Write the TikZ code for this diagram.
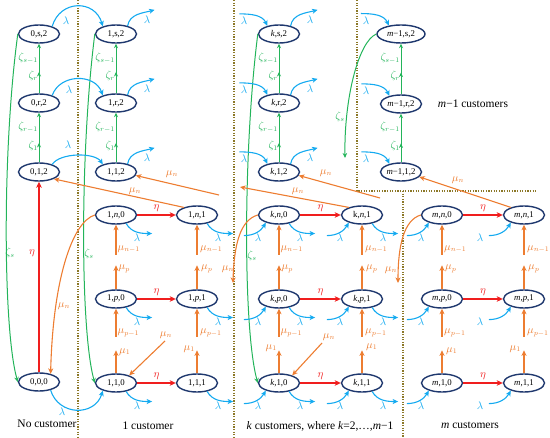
\documentclass[tikz,border=0pt]{standalone}
\usepackage{fontspec}
\setmainfont{Liberation Serif}
\usetikzlibrary{arrows.meta,shapes.geometric,decorations.markings}
\definecolor{nodeblue}{RGB}{31,56,110}
\definecolor{lamblue}{RGB}{20,170,240}
\definecolor{muor}{RGB}{237,125,49}
\definecolor{zgreen}{RGB}{35,180,90}
\definecolor{etared}{RGB}{240,30,30}
\definecolor{dotcol}{RGB}{140,120,40}
\tikzset{
 st/.style={ellipse,draw=nodeblue,line width=1.4pt,fill=white,minimum width=41pt,minimum height=18pt,inner sep=0pt,font=\fontsize{8.8}{9}\selectfont},
 lamarr/.style={draw=lamblue,line width=1.1pt,-{Stealth[length=5.5pt,width=5pt,inset=1.5pt]}},
 lamarrin/.style={draw=lamblue,line width=1.1pt,{Stealth[length=5.5pt,width=5pt,inset=1.5pt]}-},
 muarr/.style={draw=muor,line width=1.1pt,-{Stealth[length=5.5pt,width=5pt,inset=1.5pt]}},
 muarrin/.style={draw=muor,line width=1.1pt,{Stealth[length=5.5pt,width=5pt,inset=1.5pt]}-},
 zarr/.style={draw=zgreen,line width=1pt,-{Stealth[length=5pt,width=4.5pt]}},
 zchain/.style={draw=zgreen,line width=1pt,-{Stealth[length=4.5pt,width=4pt]},postaction={decorate},
   decoration={markings,mark=at position #1 with {\arrow{Stealth[length=4.5pt,width=4pt,color=zgreen]}}}},
 etaarr/.style={draw=etared,line width=1.4pt,-{Stealth[length=6pt,width=5.5pt,inset=1.5pt]}},
 dotl/.style={draw=dotcol,line width=1.3pt,dash pattern=on 1.3pt off 1.3pt},
 lbl/.style={inner sep=0pt,font=\fontsize{10.5}{11}\selectfont},
 lamlbl/.style={lbl,text=lamblue},
 mulbl/.style={lbl,text=muor},
 zlbl/.style={lbl,text=zgreen},
 etalbl/.style={lbl,text=etared},
 captxt/.style={inner sep=0pt,font=\fontsize{11.5}{12}\selectfont}
}
\newcommand\LOut[1]{\draw[lamarr] (#1.-40) to[out=-60,in=180] ++(26,10);
  \node[lamlbl,xshift=21pt,yshift=-23pt] (#1lo) at (#1.center) {$\lambda$};}
\newcommand\LIn[2]{\draw[lamarrin] (#1.-150) to[out=-120,in=0] ++(-22,13);
  \node[lamlbl,xshift=#2,yshift=-23pt] (#1li) at (#1.center) {$\lambda$};}
\newcommand\LTopOut[1]{\draw[lamarr] (#1.35) to[out=80,in=195] ++(27,-16);
  \node[lamlbl,xshift=31pt,yshift=14pt] (#1lto) at (#1.center) {$\lambda$};}
\newcommand\LTopIn[1]{\draw[lamarrin] (#1.145) to[out=115,in=0] ++(-28,-12);
  \node[lamlbl,xshift=-35pt,yshift=13pt] (#1lti) at (#1.center) {$\lambda$};}
\newcommand\ZChain[5]{% bottom, mid, top, prefix, x
  \draw[zchain=0.39] (#1) -- (#2);
  \draw[zchain=0.43] (#2) -- (#3);
  \node[zlbl,anchor=east] (#4za) at (#5-1,58) {$\zeta_{s-1}$};
  \node[zlbl,anchor=east] (#4zb) at (#5-1,76) {$\zeta_{r}$};
  \node[zlbl,anchor=east] (#4zc) at (#5-1,127) {$\zeta_{r-1}$};
  \node[zlbl,anchor=east] (#4zd) at (#5-1,146) {$\zeta_{1}$};}
\newcommand\MuN[2]{\draw[muarrin] (#1.south) -- ++(0,30);
  \node[mulbl,anchor=west] (#1mn) at (#2,249) {$\mu_{n-1}$};}
\newcommand\MuP[2]{\draw[muarr] (#1.north) -- ++(0,-24);
  \node[mulbl,anchor=west] (#1mp) at (#2+1,269) {$\mu_{p}$};
  \draw[muarrin] (#1.south) -- ++(0,28);
  \node[mulbl,anchor=west] (#1mq) at (#2,333) {$\mu_{p-1}$};}
\newcommand\MuOne[4]{\draw[muarr] (#1.north) -- ++(0,-23);
  \node[mulbl,anchor=#2] (#1mo) at (#3,#4) {$\mu_{1}$};}
\newcommand\Eta[2]{\draw[etaarr] (#1) -- (#2) node[etalbl,midway,above=2.5pt] (#1e) {$\eta$};}
\begin{document}
\begin{tikzpicture}[x=1pt,y=-1pt]
\useasboundingbox (0,0) rectangle (550,438);
% separators
\draw[dotl] (78,0) -- (78,438);
\draw[dotl] (234,0) -- (234,438);
\draw[dotl] (357,0) -- (357,191) -- (537,191);
\draw[dotl] (403,191) -- (403,438);
% column 0
\node[st] (a0s) at (39,34) {0,s,2};
\node[st] (a0r) at (39,103) {0,r,2};
\node[st] (a01) at (39,172) {0,1,2};
\node[st] (a00) at (39,382) {0,0,0};
% column 1
\node[st] (b1s) at (116,34) {1,s,2};
\node[st] (b1r) at (116,103) {1,r,2};
\node[st] (b11) at (116,172) {1,1,2};
\node[st] (c1n0) at (116,215) {1,\textit{n},0};
\node[st] (c1n1) at (197,215) {1,\textit{n},1};
\node[st] (c1p0) at (116,299) {1,\textit{p},0};
\node[st] (c1p1) at (197,299) {1,\textit{p},1};
\node[st] (c110) at (116,383) {1,1,0};
\node[st] (c111) at (197,383) {1,1,1};
% column k
\node[st] (bks) at (279,34) {\textit{k},s,2};
\node[st] (bkr) at (279,103) {\textit{k},r,2};
\node[st] (bk1) at (279,172) {\textit{k},1,2};
\node[st] (ckn0) at (279,215) {\textit{k},\textit{n},0};
\node[st] (ckn1) at (362,215) {k,\textit{n},1};
\node[st] (ckp0) at (279,299) {\textit{k},\textit{p},0};
\node[st] (ckp1) at (362,299) {\textit{k},\textit{p},1};
\node[st] (ck10) at (279,383) {\textit{k},1,0};
\node[st] (ck11) at (362,383) {\textit{k},1,1};
% column m-1
\node[st,minimum width=48pt] (bms) at (401,34) {\textit{m}−1,s,2};
\node[st] (bmr) at (401,104) {\textit{m}−1,r,2};
\node[st] (bm1) at (401,172) {\textit{m}−1,1,2};
% column m
\node[st] (cmn0) at (442,215) {\textit{m},\textit{n},0};
\node[st] (cmn1) at (524,215) {\textit{m},\textit{n},1};
\node[st] (cmp0) at (442,299) {\textit{m},\textit{p},0};
\node[st] (cmp1) at (524,299) {\textit{m},\textit{p},1};
\node[st] (cm10) at (442,383) {\textit{m},1,0};
\node[st] (cm11) at (524,383) {\textit{m},1,1};
% captions
\node[captxt] (t0) at (47,424) {No customer};
\node[captxt] (t1) at (148,426) {1 customer};
\node[captxt] (tk) at (320,426) {\textit{k} customers, where \textit{k}=2,…,\textit{m}−1};
\node[captxt] (tm) at (470,425) {\textit{m} customers};
\node[captxt] (tm1) at (473,104) {\textit{m}−1 customers};
% green chains
\ZChain{a01}{a0r}{a0s}{a}{39}
\ZChain{b11}{b1r}{b1s}{b}{116}
\ZChain{bk1}{bkr}{bks}{k}{279}
\ZChain{bm1}{bmr}{bms}{m}{401}
% green zeta_s
\draw[zarr] (a0s.west) .. controls (2,150) and (3,330) .. (a00.west);
\node[zlbl] (zs0) at (10,253) {$\zeta_s$};
\draw[zarr] (b1s.west) .. controls (80,150) and (80,330) .. (c110.west);
\node[zlbl] (zs1) at (89,254) {$\zeta_s$};
\draw[zarr] (bks.west) .. controls (243,150) and (243,330) .. (ck10.west);
\node[zlbl] (zsk) at (252,256) {$\zeta_s$};
\coordinate (zsend) at (345,158);
\draw[zarr] (bms.west) .. controls (358,42) and (344,100) .. (zsend);
\node[zlbl] (zsm) at (340,117) {$\zeta_s$};
% red eta
\draw[etaarr] (a00) -- (a01);
\node[etalbl] (e0) at (32,253) {$\eta$};
\Eta{c1n0}{c1n1}
\Eta{c1p0}{c1p1}
\Eta{c110}{c111}
\Eta{ckn0}{ckn1}
\Eta{ckp0}{ckp1}
\Eta{ck10}{ck11}
\Eta{cmn0}{cmn1}
\Eta{cmp0}{cmp1}
\Eta{cm10}{cm11}
% lambda top, column 0 to column 1
\draw[lamarr] (a0s.30) .. controls +(8,-27) and +(-8,-27) .. (b1s.150);
\node[lamlbl] (l0s) at (66,21) {$\lambda$};
\draw[lamarr] (a0r.30) .. controls +(8,-22) and +(-8,-22) .. (b1r.150);
\node[lamlbl] (l0r) at (69,90) {$\lambda$};
\draw[lamarr] (a01.30) .. controls +(8,-12) and +(-8,-12) .. (b11.150);
\node[lamlbl] (l01) at (68,145) {$\lambda$};
\draw[lamarr] (a00.-35) .. controls +(8,26) and +(-8,26) .. (c110.-150);
\node[lamlbl] (l00) at (62,412) {$\lambda$};
\LTopOut{b1s}\LTopOut{b1r}\LTopOut{b11}
\LTopOut{bks}\LTopOut{bkr}\LTopOut{bk1}
\LTopIn{bks}\LTopIn{bkr}\LTopIn{bk1}
\LTopIn{bms}\LTopIn{bmr}\LTopIn{bm1}
% lambda lower
\LOut{c1n0}\LOut{c1n1}\LOut{c1p0}\LOut{c1p1}\LOut{c110}\LOut{c111}
\LOut{ckn0}\LOut{ckn1}\LOut{ckp0}\LOut{ckp1}\LOut{ck10}\LOut{ck11}
\LIn{ckn0}{-21pt}\LIn{ckn1}{-22pt}\LIn{ckp0}{-21pt}\LIn{ckp1}{-22pt}\LIn{ck10}{-21pt}\LIn{ck11}{-22pt}
\LIn{cmn0}{-21pt}\LIn{cmp0}{-21pt}\LIn{cm10}{-21pt}
\LIn{cmn1}{-44pt}\LIn{cmp1}{-44pt}\LIn{cm11}{-44pt}
% mu vertical
\MuN{c1n0}{117.5}\MuN{c1n1}{200}\MuN{ckn0}{280.5}\MuN{ckn1}{365}\MuN{cmn0}{444}\MuN{cmn1}{527}
\MuP{c1p0}{117.5}\MuP{c1p1}{200}\MuP{ckp0}{280.5}\MuP{ckp1}{365}\MuP{cmp0}{444}\MuP{cmp1}{527}
\MuOne{c110}{west}{119}{352}
\MuOne{c111}{east}{195}{349}
\MuOne{ck10}{east}{277}{348}
\MuOne{ck11}{west}{366}{347}
\MuOne{cm10}{west}{446}{351}
\MuOne{cm11}{east}{521}{349}
% mu_n diagonal lines
\draw[muarr] (c1n1.150) -- (a01.-25);
\node[mulbl] (mn1) at (135,191) {$\mu_n$};
\coordinate (mus2) at (219,195);
\draw[muarr] (mus2) -- (b11.-10);
\node[mulbl] (mn2) at (172,174) {$\mu_n$};
\coordinate (muke) at (240,187);
\draw[muarr] (ckn1.150) -- (muke);
\node[mulbl] (mn3) at (298,191) {$\mu_n$};
\coordinate (muks) at (380,198);
\draw[muarr] (muks) -- (bk1.-10);
\node[mulbl] (mn4) at (326,173) {$\mu_n$};
\draw[muarr] (cmn1.150) -- (bm1.-15);
\node[mulbl] (mn5) at (458,180) {$\mu_n$};
% mu_n into x,1,0
\coordinate (mu1s) at (165,341);
\draw[muarr] (mu1s) -- (c110.30);
\node[mulbl] (mn6) at (166,335) {$\mu_n$};
\coordinate (mukks) at (322,343);
\draw[muarr] (mukks) -- (ck10.30);
\node[mulbl] (mn7) at (329,337) {$\mu_n$};
% mu_n curves downwards
\draw[muarr] (c1n0.west) .. controls (72,222) and (53,280) .. (a00.35);
\node[mulbl] (mn8) at (64,306) {$\mu_n$};
\coordinate (mukd) at (233,283);
\draw[muarr] (ckn0.west) .. controls (240,220) and (234,245) .. (mukd);
\node[mulbl] (mn9) at (228,269) {$\mu_n$};
\coordinate (mumd) at (398,283);
\draw[muarr] (cmn0.west) .. controls (404,220) and (398,245) .. (mumd);
\node[mulbl] (mn10) at (391,270) {$\mu_n$};
\end{tikzpicture}
\end{document}
